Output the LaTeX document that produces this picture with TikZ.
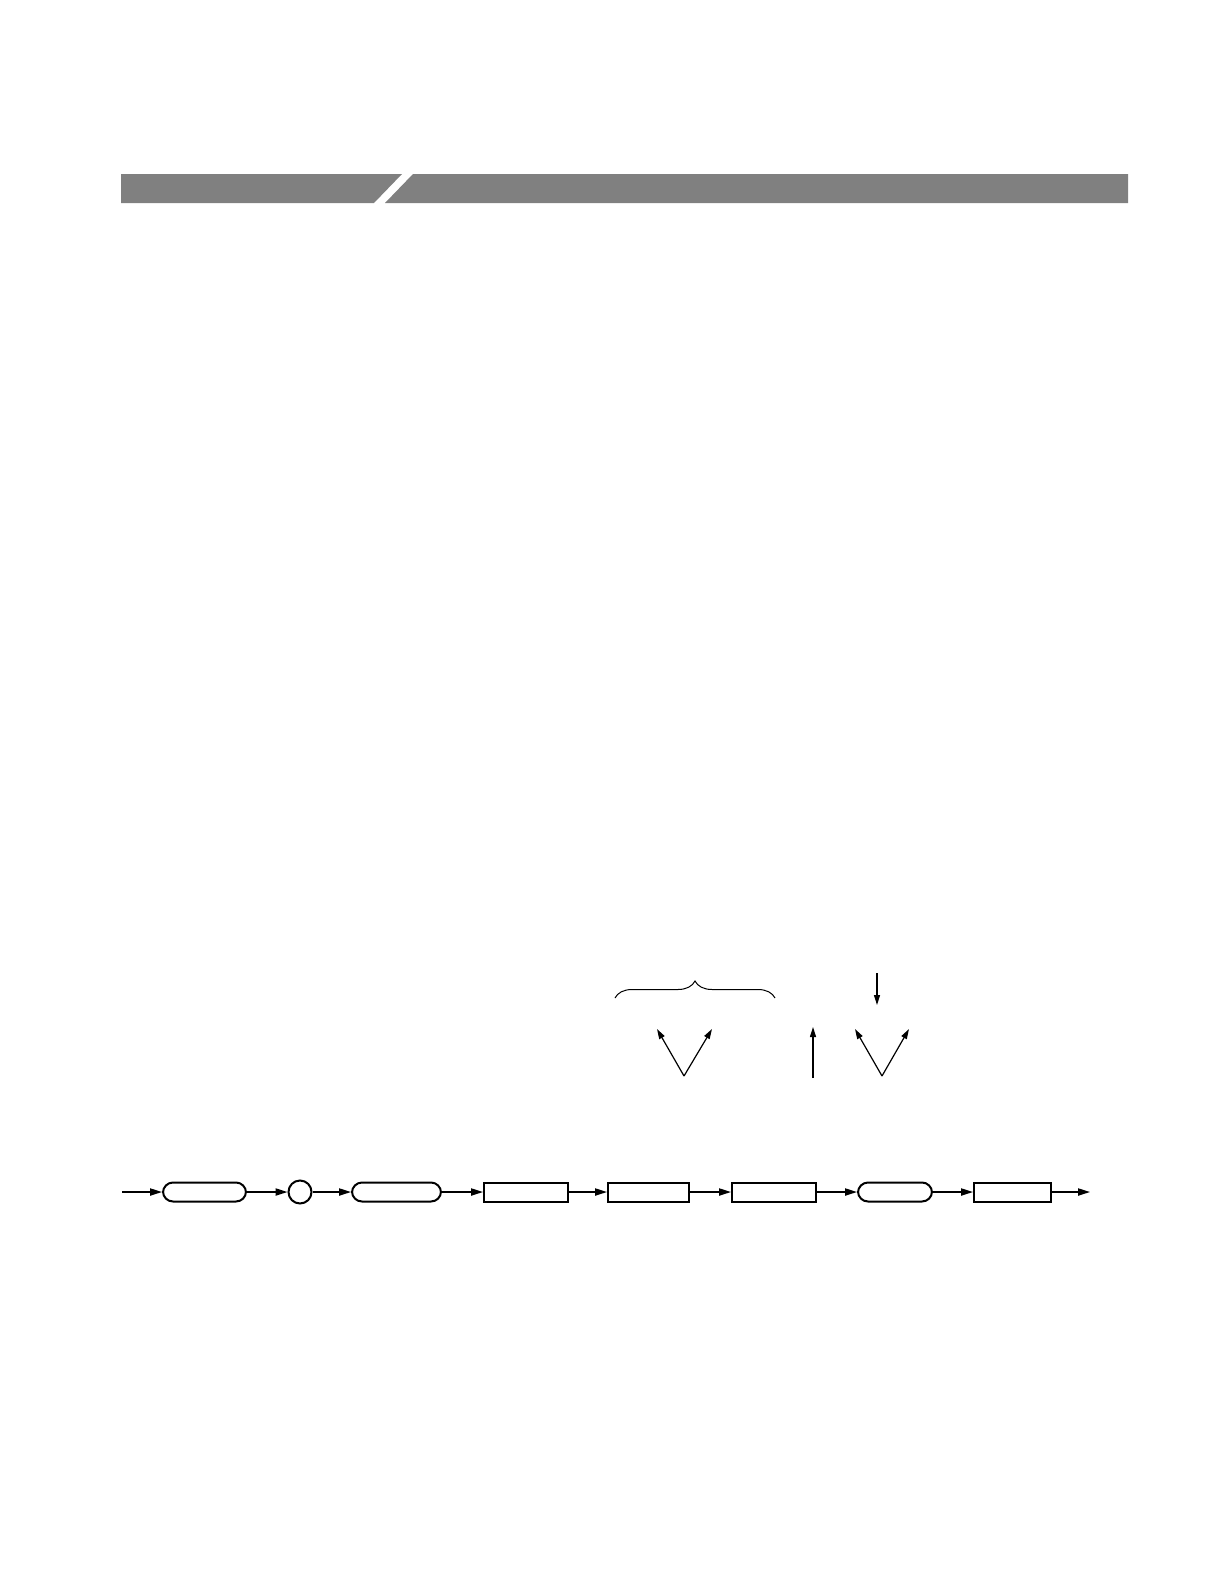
\documentclass[tikz,border=0pt]{standalone}
\usetikzlibrary{arrows.meta,decorations.pathreplacing}

\definecolor{barGray}{RGB}{128,128,128}
\tikzset{
  flow/.style={line width=0.75pt, -{Triangle[length=6pt,width=3.6pt]}},
  thinflow/.style={line width=0.6pt, -{Triangle[length=5pt,width=3pt]}},
  pill/.style={draw, line width=1pt, rounded corners=5pt, minimum height=9.5pt, inner sep=0pt},
  plainbox/.style={draw, line width=1pt, minimum height=9.5pt, inner sep=0pt},
  joint/.style={draw, line width=1pt, circle, minimum size=11.5pt, inner sep=0pt}
}

\begin{document}
\begin{tikzpicture}[x=0.5pt, y=-0.5pt]
    \useasboundingbox (0,0) rectangle (1224,1584);

    % header bar with the slash
    \fill[barGray] (121,174) -- (402,174) -- (374,203) -- (121,203) -- cycle;
    \fill[barGray] (413,174) -- (1128,174) -- (1128,203) -- (385,203) -- cycle;

    % brace and the small arrows above the chain
    \draw[line width=0.5pt, decorate, decoration={brace, amplitude=8.5pt}]
      (615,998) -- (775,998);

    \coordinate (v1) at (684,1076);
    \draw[thinflow] (v1) -- (657,1029);
    \draw[thinflow] (v1) -- (712,1029);

    \coordinate (up) at (813,1078);
    \draw[thinflow] (up) -- ++(0,-51);

    \coordinate (v2) at (882,1076);
    \draw[thinflow] (v2) -- (855,1029);
    \draw[thinflow] (v2) -- (909,1029);

    \coordinate (dn) at (877,973);
    \draw[thinflow] (dn) -- ++(0,32);

    % the chain
    \foreach \nm/\cx/\bw/\st in {b1/204.5/85/pill, b2/396.5/91/pill, b3/526/86/plainbox,
        b4/648.5/83/plainbox, b5/774/86/plainbox, b6/895/76/pill, b7/1012.5/79/plainbox} {
      \node[\st, minimum width=\bw*0.5pt-1pt] (\nm) at (\cx,1192) {};
    }
    \node[joint] (jn) at (300,1192) {};

    \coordinate (in) at (122,1192);
    \coordinate (out) at (1090,1192);

    \foreach \a/\b in {in/b1, b1/jn, jn/b2, b2/b3, b3/b4, b4/b5, b5/b6, b6/b7, b7/out} {
      \draw[flow] (\a) -- (\b);
    }
\end{tikzpicture}
\end{document}
